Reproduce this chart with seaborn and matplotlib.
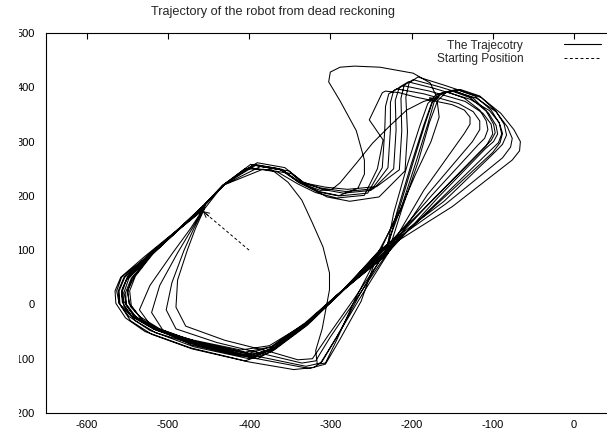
import matplotlib
matplotlib.use("Agg")
import numpy as np
import pandas as pd
import seaborn as sns
import matplotlib.pyplot as plt
from matplotlib.lines import Line2D
from matplotlib.transforms import Bbox, TransformedBbox

# trajectory laps (x, y), in driving order
lap_a = [(-457, 172), (-433, 218), (-405, 250), (-372, 248), (-352, 225), (-335, 192), (-322, 150),
         (-309, 106), (-301, 58), (-301, 27), (-304, 3), (-310, -45), (-318, -85), (-316, -110),
         (-306, -108), (-292, -65), (-270, 8), (-238, 100), (-216, 172), (-198, 262), (-183, 334),
         (-174, 374), (-164, 389), (-146, 393), (-124, 380), (-105, 352), (-96, 330), (-94, 314),
         (-99, 300), (-109, 287), (-168, 196), (-231, 92), (-288, 21), (-330, -36), (-371, -82),
         (-402, -95), (-466, -72), (-520, -42), (-545, -20), (-556, 4), (-557, 25), (-550, 50),
         (-524, 88), (-489, 135), (-456, 181)]
lap_b = [(-456, 182), (-432, 220), (-400, 252), (-365, 244), (-340, 222), (-318, 206), (-292, 196),
         (-258, 201), (-242, 250), (-235, 303), (-252, 340), (-236, 390), (-232, 393), (-215, 390),
         (-195, 382), (-150, 368), (-135, 358), (-128, 345), (-128, 332), (-135, 315), (-185, 210),
         (-228, 100), (-288, 22), (-330, -35), (-372, -78), (-400, -90), (-465, -70), (-520, -40),
         (-542, -20), (-554, 5), (-556, 28), (-549, 52), (-525, 90), (-490, 135), (-456, 182)]
lap_c = [(-456, 176), (-468, 140), (-480, 100), (-495, 40), (-502, -10), (-490, -45), (-440, -70),
         (-380, -92), (-335, -108), (-318, -104), (-300, -60), (-268, 10), (-232, 90), (-218, 170),
         (-200, 260), (-185, 330), (-175, 372), (-165, 388), (-150, 393), (-128, 381), (-108, 356),
         (-99, 332), (-97, 316), (-102, 302), (-110, 290), (-170, 198), (-238, 98), (-288, 20),
         (-328, -38), (-370, -85), (-410, -95), (-470, -75), (-510, -48), (-538, -25), (-551, 0),
         (-554, 22), (-548, 48), (-522, 90), (-489, 135), (-456, 176)]
lap_d = [(-455, 183), (-430, 222), (-395, 257), (-360, 248), (-337, 224), (-314, 208), (-288, 200),
         (-254, 205), (-236, 252), (-233, 320), (-232, 365), (-228, 388), (-218, 397), (-185, 388),
         (-142, 370), (-124, 355), (-116, 338), (-116, 322), (-125, 300), (-180, 203), (-230, 92),
         (-288, 22), (-330, -35), (-370, -82), (-395, -96), (-465, -72), (-515, -47), (-540, -25),
         (-551, -2), (-552, 22), (-545, 48), (-522, 88), (-488, 136), (-455, 183)]
lap_e = [(-455, 178), (-470, 140), (-488, 95), (-510, 35), (-520, -15), (-505, -50), (-450, -75),
         (-385, -97), (-330, -114), (-312, -108), (-293, -62), (-265, 8), (-229, 94), (-212, 175),
         (-192, 262), (-178, 335), (-168, 375), (-158, 390), (-140, 396), (-116, 384), (-96, 356),
         (-86, 332), (-83, 312), (-88, 295), (-97, 281), (-160, 190), (-240, 99), (-287, 21),
         (-329, -37), (-372, -83), (-400, -100), (-468, -78), (-522, -48), (-548, -22), (-560, 2),
         (-561, 25), (-554, 50), (-526, 88), (-490, 134), (-455, 178)]
lap_f = [(-454, 184), (-428, 224), (-390, 261), (-356, 252), (-334, 226), (-310, 212), (-284, 205),
         (-250, 210), (-229, 252), (-226, 322), (-226, 372), (-222, 394), (-210, 403), (-178, 393),
         (-134, 374), (-112, 352), (-102, 332), (-100, 314), (-108, 292), (-172, 196), (-238, 90),
         (-289, 21), (-331, -34), (-373, -78), (-405, -88), (-467, -68), (-510, -45), (-535, -22),
         (-548, 2), (-549, 27), (-541, 52), (-520, 92), (-487, 138), (-454, 184)]
lap_g = [(-455, 183), (-430, 222), (-393, 258), (-360, 249), (-338, 224), (-314, 207), (-290, 200),
         (-266, 214), (-258, 240), (-258, 266), (-268, 320), (-288, 375), (-302, 410), (-300, 428),
         (-288, 437), (-270, 439), (-239, 437), (-198, 426), (-177, 408), (-169, 382), (-166, 345),
         (-176, 300), (-195, 240), (-215, 170), (-233, 97), (-265, 15), (-292, -60), (-310, -105),
         (-320, -116), (-345, -120), (-400, -106), (-470, -82), (-520, -55), (-546, -30), (-559, 0),
         (-560, 25), (-553, 50), (-524, 89), (-489, 135), (-456, 180)]
lap_h = [(-457, 181), (-433, 219), (-398, 258), (-363, 250), (-339, 225), (-310, 214), (-281, 208),
         (-247, 213), (-222, 250), (-219, 322), (-220, 376), (-215, 400), (-204, 410), (-172, 398),
         (-128, 378), (-104, 357), (-92, 335), (-88, 315), (-91, 298), (-100, 280), (-165, 190),
         (-232, 98), (-288, 22), (-330, -36), (-371, -85), (-390, -100), (-463, -76), (-518, -45),
         (-545, -22), (-560, 2), (-563, 25), (-557, 50), (-528, 85), (-491, 133), (-457, 181)]
lap_i = [(-456, 177), (-472, 140), (-494, 95), (-522, 35), (-535, -10), (-518, -45), (-460, -72),
         (-390, -100), (-326, -118), (-306, -110), (-288, -64), (-262, 6), (-241, 96), (-214, 172),
         (-195, 260), (-180, 332), (-172, 374), (-162, 390), (-145, 396), (-122, 384), (-102, 358),
         (-92, 334), (-89, 314), (-93, 298), (-102, 285), (-165, 193), (-236, 90), (-289, 19),
         (-331, -40), (-374, -88), (-405, -104), (-472, -80), (-528, -50), (-552, -25), (-564, 2),
         (-565, 25), (-558, 50), (-528, 89), (-491, 134), (-456, 177)]
lap_j = [(-455, 183), (-430, 221), (-386, 254), (-351, 246), (-333, 224), (-306, 216), (-279, 212),
         (-243, 217), (-215, 248), (-212, 320), (-213, 380), (-209, 404), (-198, 414), (-166, 401),
         (-120, 380), (-96, 355), (-82, 327), (-76, 306), (-78, 290), (-88, 270), (-158, 185),
         (-239, 99), (-287, 23), (-329, -34), (-375, -76), (-410, -84), (-468, -66), (-508, -50),
         (-532, -28), (-545, -2), (-547, 25), (-540, 52), (-518, 94), (-486, 139), (-455, 183)]
lap_k = [(-455, 176), (-466, 140), (-476, 100), (-488, 45), (-490, -5), (-478, -40), (-430, -66),
         (-372, -88), (-340, -102), (-322, -100), (-303, -58), (-270, 12), (-231, 98), (-222, 168),
         (-205, 258), (-190, 328), (-180, 370), (-170, 386), (-155, 391), (-135, 380), (-116, 358),
         (-108, 338), (-106, 322), (-110, 306), (-118, 294), (-175, 201), (-239, 92), (-288, 22),
         (-330, -35), (-368, -80), (-395, -92), (-462, -70), (-505, -50), (-530, -30), (-546, -4),
         (-550, 22), (-544, 48), (-520, 92), (-487, 137), (-455, 176)]
lap_l = [(-456, 182), (-431, 220), (-383, 249), (-348, 241), (-332, 220), (-304, 198), (-276, 190),
         (-240, 198), (-208, 246), (-205, 318), (-207, 382), (-203, 408), (-192, 419), (-160, 404),
         (-114, 381), (-90, 352), (-74, 322), (-66, 300), (-67, 283), (-76, 266), (-150, 180),
         (-234, 101), (-288, 22), (-330, -35), (-372, -80), (-398, -98), (-466, -74), (-515, -52),
         (-540, -30), (-554, -4), (-557, 20), (-551, 45), (-524, 87), (-489, 134), (-456, 182)]
lap_m = [(-456, 180), (-431, 221), (-392, 256), (-358, 247), (-336, 223), (-312, 210), (-298, 212),
         (-288, 224), (-268, 260), (-248, 297), (-226, 330), (-206, 358), (-185, 374), (-171, 380)]

start_x = [-400, -457]
start_y = [100, 172]

x_ticks = [-600, -500, -400, -300, -200, -100, 0]
y_ticks = [-200, -100, 0, 100, 200, 300, 400, 500]

laps = [lap_a, lap_b, lap_c, lap_d, lap_e, lap_f, lap_g, lap_h, lap_i, lap_j, lap_k, lap_l, lap_m]
rows = [pt for lap in laps for pt in lap]
df = pd.DataFrame(rows, columns=["x", "y"])

sns.set_style("white")
plt.rcParams["font.family"] = ["Liberation Sans", "DejaVu Sans"]
plt.rcParams["axes.unicode_minus"] = False
fs_tick = 8.0
fs_text = 8.6

fig = plt.figure(figsize=(6.07, 4.34), dpi=100)
ax = fig.add_axes([46 / 607, 21 / 434, 568.6 / 607, 380 / 434])

sns.lineplot(data=df, x="x", y="y", sort=False, estimator=None, color="black", lw=0.75, ax=ax)
ax.plot(start_x, start_y, color="black", lw=0.7, ls=(0, (3, 2.5)))
ax.annotate("", xy=(start_x[1], start_y[1]), xytext=(4.4, -3.7), textcoords="offset points",
            arrowprops=dict(arrowstyle="->", lw=0.7, color="black", shrinkA=0, shrinkB=0))
ax.annotate("", xy=(lap_m[-1][0], lap_m[-1][1]), xytext=(-5, -1.5), textcoords="offset points",
            arrowprops=dict(arrowstyle="-|>", lw=0.8, color="black", shrinkA=0, shrinkB=0,
                            mutation_scale=7))

ax.set_xlim(-650, 50)
ax.set_ylim(-200, 500)
ax.set_xticks(x_ticks)
ax.set_yticks(y_ticks)
ax.set_xticklabels([str(v) for v in x_ticks])
ax.set_yticklabels([str(v) for v in y_ticks])
ax.set_xlabel("")
ax.set_ylabel("")
ax.tick_params(direction="in", length=4.5, width=0.8, top=True, right=True,
               labelsize=fs_tick, colors="black")
ax.tick_params(axis="x", pad=5)
ax.tick_params(axis="y", pad=8)
for sp in ax.spines.values():
    sp.set_color("black")
    sp.set_linewidth(0.8)

# the left edge of the picture cuts into the y labels
clip = TransformedBbox(Bbox([[18.5 / 607, 0], [1, 1]]), fig.transFigure)
for t in ax.yaxis.get_major_ticks():
    t.label1.set_clip_box(clip)
    t.label1.set_clip_on(True)

handles = [Line2D([], [], color="black", lw=0.8),
           Line2D([], [], color="black", lw=0.7, ls=(0, (3, 2.5)))]
ax.legend(handles, ["The Trajecotry", "Starting Position"], loc="upper right",
          bbox_to_anchor=(601 / 607, 1 - 39.5 / 434), bbox_transform=fig.transFigure,
          frameon=False, markerfirst=False, handlelength=3.1, handletextpad=3.4,
          labelspacing=0.1, borderpad=0, borderaxespad=0, fontsize=fs_text)

fig.text(273 / 607, 1 - 12 / 434, "Trajectory of the robot from dead reckoning",
         ha="center", va="center", fontsize=9.2)

fig.savefig("out.png", dpi=100)
